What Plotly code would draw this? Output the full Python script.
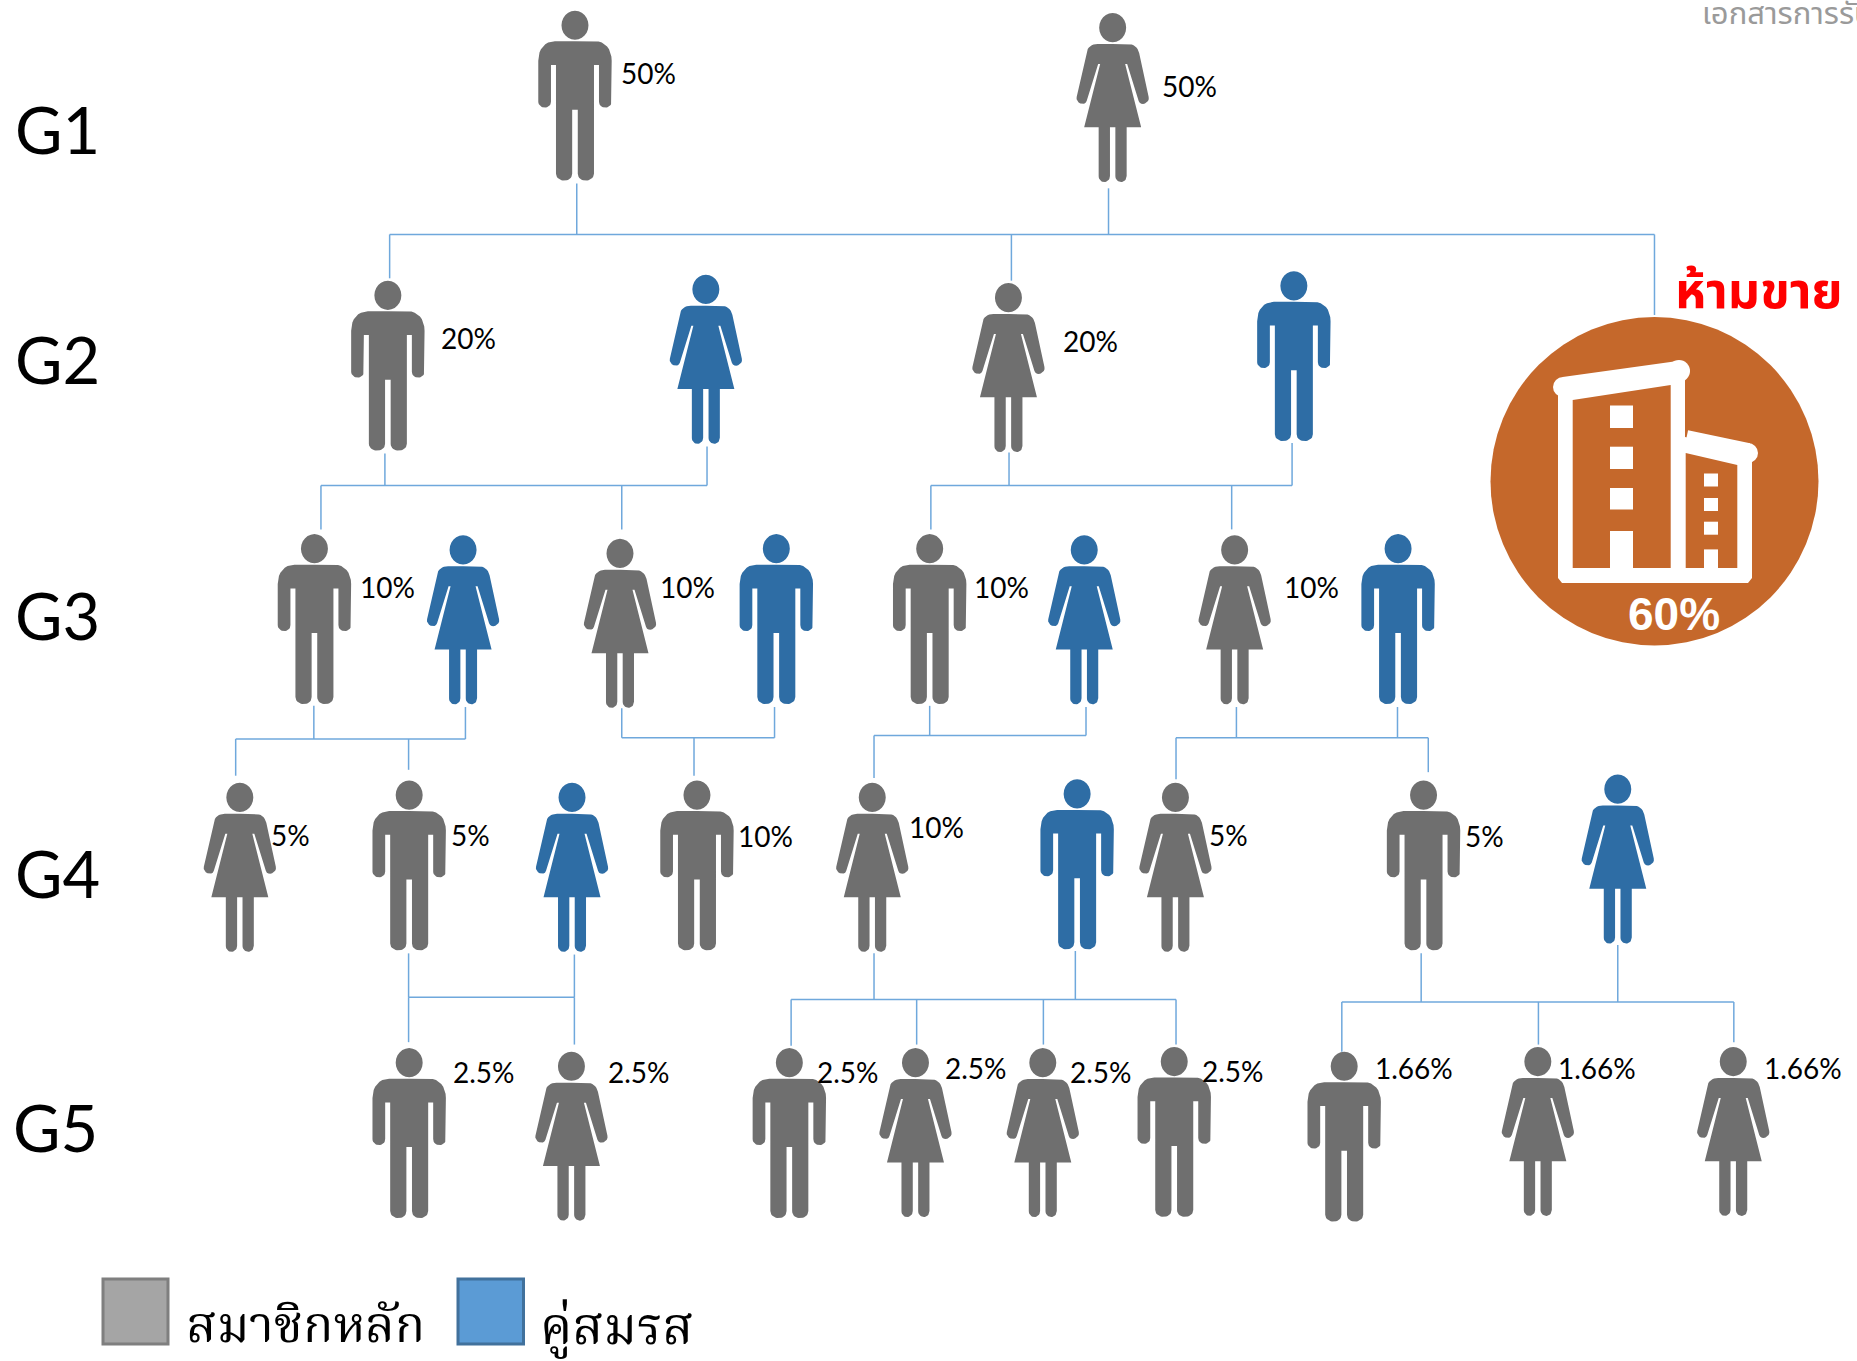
import plotly.graph_objects as go

S = 1857 / 1568  # positions below were read on the 1568 px wide view

GENERATIONS = ["G1", "G2", "G3", "G4", "G5"]
GEN_Y = [109, 303, 519, 737, 952]
GEN_X = [11, 11, 11, 11, 9]

PERSON_SEX = list("MF" "MFFM" "MFFMMFFM" "FMFMFMFMF" "MFMFFMMFF")
PERSON_KIND = list("mm" "msms" "msmsmsms" "mmsmmsmms" "mmmmmmmmm")
PERSON_X = [485.5, 939.5, 327.5, 596, 851.5, 1092.5, 265.5, 391, 523.5, 655.5, 785, 915.5, 1042.5, 1180.5,
            202.5, 345.5, 483, 588.5, 736.5, 909.5, 992.5, 1202, 1366,
            345.5, 482.5, 666.5, 773, 880.5, 991.5, 1135, 1298.5, 1463.5]
PERSON_TOP = [9, 11, 237, 232, 239, 229, 451, 452, 455, 451, 451, 452, 452, 451,
              661, 659, 661, 659, 661, 658, 661, 659, 654,
              885, 888, 885, 885, 885, 884, 888, 884, 884]

SHARE_TEXT = ["50%", "50%", "20%", "20%", "10%", "10%", "10%", "10%",
              "5%", "5%", "10%", "10%", "5%", "5%",
              "2.5%", "2.5%", "2.5%", "2.5%", "2.5%", "2.5%", "1.66%", "1.66%", "1.66%"]
SHARE_X = [523, 979.5, 370.5, 895.5, 302.5, 555.5, 820.5, 1082.5,
           227.5, 379.5, 621.5, 765.5, 1019.5, 1235.5,
           380.5, 511.5, 688.5, 796.5, 901.5, 1013.5, 1159.5, 1313.5, 1487.5]
SHARE_Y = [62, 73, 285, 288, 496, 496, 496, 496,
           705, 705, 706, 698, 705, 706,
           905, 905, 905, 902, 905, 904, 902, 902, 902]

CONNECTORS = [
    (198, 329, 1397, [(487, 155), (936, 159), (329, 235), (854, 237), (1397, 266)]),
    (410, 271, 597, [(325, 383), (597, 377), (271, 447), (525, 447)]),
    (410, 786, 1091, [(852, 382), (1091, 374), (786, 447), (1040, 447)]),
    (624, 199, 393, [(265, 596), (393, 597), (199, 655), (345, 650)]),
    (623, 525, 654, [(525, 598), (654, 597), (586, 655)]),
    (621, 738, 917, [(785, 596), (917, 597), (738, 657)]),
    (623, 993, 1206, [(1044, 597), (1180, 597), (993, 658), (1206, 652)]),
    (842, 345, 485, [(345, 805), (485, 806), (345, 880), (485, 882)]),
    (844, 668, 993, [(738, 805), (908, 803), (668, 883), (774, 882), (881, 882), (993, 882)]),
    (846, 1133, 1464, [(1200, 805), (1366, 798), (1133, 888), (1299, 882), (1464, 880)]),
]

LEGEND_LABELS = ["สมาชิกหลัก", "คู่สมรส"]
WATERMARK = "เอกสารการรับรอง"
BANNER = "ห้ามขาย"
ASSET_SHARE = "60%"

GRAY, BLUE, LINE = "#6F6F6F", "#2E6DA5", "#6FA8DC"
BROWN = "#C5682B"
THAI = "Noto Sans Thai, Noto Sans, Loma, Garuda, sans-serif"
THAI_SERIF = "Noto Serif Thai, Noto Sans, Liberation Serif, serif"


def bez(p0, p1, p2, p3, n=8):
    out = []
    for i in range(1, n + 1):
        t = i / n
        a, b, c, d = (1 - t) ** 3, 3 * t * (1 - t) ** 2, 3 * t * t * (1 - t), t ** 3
        out.append((a * p0[0] + b * p1[0] + c * p2[0] + d * p3[0],
                    a * p0[1] + b * p1[1] + c * p2[1] + d * p3[1]))
    return out


def half_man():
    p = [(0, 30.6), (20, 30.6)]
    p += bez((20, 30.6), (30, 30.6), (36.7, 38), (36.7, 50))
    p += [(36.7, 91)]
    p += bez((36.7, 91), (36.7, 95), (33, 97), (30.5, 97))
    p += bez((30.5, 97), (27, 97), (24, 95), (24, 91))
    p += [(24, 54.3), (19, 54.3), (19, 163)]
    p += bez((19, 163), (19, 168), (14, 170), (11, 170))
    p += bez((11, 170), (7, 170), (2.8, 168), (2.8, 163))
    p += [(2.8, 99), (0, 99)]
    return p


def half_woman():
    p = [(0, 31), (15, 31)]
    p += bez((15, 31), (21, 31), (25, 34), (26.5, 40))
    p += [(36, 84)]
    p += bez((36, 84), (37.5, 90), (28, 94), (26, 88))
    p += [(14.5, 51), (12.5, 51), (28.5, 114.3), (14, 114.3), (14, 163)]
    p += bez((14, 163), (14, 167), (11, 169), (8.5, 169))
    p += bez((8.5, 169), (6, 169), (2.7, 167), (2.7, 163))
    p += [(2.7, 114.3), (0, 114.3)]
    return p


def head():
    pts = []
    k = 0.5523
    rx, ry, cy = 13.5, 14.6, 14.6
    corners = [((rx, cy), (rx, cy + k * ry), (k * rx, cy + ry), (0, cy + ry)),
               ((0, cy + ry), (-k * rx, cy + ry), (-rx, cy + k * ry), (-rx, cy)),
               ((-rx, cy), (-rx, cy - k * ry), (-k * rx, cy - ry), (0, cy - ry)),
               ((0, cy - ry), (k * rx, cy - ry), (rx, cy - k * ry), (rx, cy))]
    for c in corners:
        pts += bez(*c, n=6)
    return pts


GLYPH_M = half_man()
GLYPH_F = half_woman()
GLYPH_H = head()

fig = go.Figure()

lx, ly = [], []
for bar_y, x0, x1, stems in CONNECTORS:
    lx += [x0 * S, x1 * S, None]
    ly += [bar_y * S, bar_y * S, None]
    for sx, sy in stems:
        lx += [sx * S, sx * S, None]
        ly += [bar_y * S, sy * S, None]
fig.add_trace(go.Scatter(x=lx, y=ly, mode="lines", line=dict(color=LINE, width=1.5),
                         hoverinfo="skip", showlegend=False))

for sex, kind, px, top in zip(PERSON_SEX, PERSON_KIND, PERSON_X, PERSON_TOP):
    half = GLYPH_M if sex == "M" else GLYPH_F
    body = half + [(-a, b) for a, b in reversed(half)]
    cx, ty = px * S, top * S
    xs = [cx + a for a, _ in body] + [None] + [cx + a for a, _ in GLYPH_H]
    ys = [ty + b for _, b in body] + [None] + [ty + b for _, b in GLYPH_H]
    col = GRAY if kind == "m" else BLUE
    fig.add_trace(go.Scatter(x=xs, y=ys, mode="lines", fill="toself", fillcolor=col,
                             line=dict(width=0, color=col), hoverinfo="skip", showlegend=False))

shapes = [
    dict(type="rect", x0=103, x1=168, y0=1279, y1=1344, fillcolor="#A5A5A5", line=dict(color="#7F7F7F", width=3)),
    dict(type="rect", x0=458, x1=523.5, y0=1279, y1=1344, fillcolor="#5B9BD5", line=dict(color="#41719C", width=3)),
    dict(type="circle", x0=1490.5, x1=1818.5, y0=317, y1=645.5, fillcolor=BROWN, line=dict(width=0)),
]


def poly(pts, color):
    d = "M" + " L".join(f"{x},{y}" for x, y in pts) + " Z"
    return dict(type="path", path=d, fillcolor=color, line=dict(width=0))


def rect(x0, x1, y0, y1, color):
    return dict(type="rect", x0=x0, x1=x1, y0=y0, y1=y1, fillcolor=color, line=dict(width=0))


shapes += [
    poly([(1558, 385), (1685, 372), (1685, 437), (1752, 452), (1752, 578), (1748, 583), (1562, 583), (1558, 578)], "white"),
    dict(type="path", path="M1564,387 L1679,371", line=dict(color="white", width=20)),
    dict(type="path", path="M1686,440 L1748,453", line=dict(color="white", width=20)),
    dict(type="circle", x0=1553, x1=1573, y0=377, y1=397, fillcolor="white", line=dict(width=0)),
    dict(type="circle", x0=1668, x1=1690, y0=360, y1=382, fillcolor="white", line=dict(width=0)),
    dict(type="circle", x0=1738, x1=1758, y0=443, y1=463, fillcolor="white", line=dict(width=0)),
    poly([(1572.7, 400), (1670.7, 385), (1670.7, 568), (1572.7, 568)], BROWN),
    poly([(1685.7, 453), (1737.3, 465), (1737.3, 568), (1685.7, 568)], BROWN),
]
for y0, y1 in [(405.5, 428), (446.7, 469), (488, 509.5), (531, 568)]:
    shapes.append(rect(1610, 1633, y0, y1, "white"))
for y0, y1 in [(473.5, 486.5), (498, 511), (521.7, 534.7), (549.4, 568)]:
    shapes.append(rect(1704, 1718, y0, y1, "white"))

ann = []
for t, x, y in zip(GENERATIONS, GEN_X, GEN_Y):
    ann.append(dict(x=x * S, y=y * S, text=t, xanchor="left", yanchor="middle", showarrow=False,
                    font=dict(family="Lato, Open Sans, sans-serif", size=65, color="black")))
for t, x, y in zip(SHARE_TEXT, SHARE_X, SHARE_Y):
    ann.append(dict(x=x * S, y=y * S, text=t, xanchor="left", yanchor="middle", showarrow=False,
                    font=dict(family="Lato, Open Sans, sans-serif", size=28, color="black")))
ann += [
    dict(x=1674, y=614, text=ASSET_SHARE, xanchor="center", yanchor="middle", showarrow=False,
         font=dict(family="Liberation Sans, sans-serif", size=46, color="white", weight="bold")),
    dict(x=1759, y=293, text=BANNER, xanchor="center", yanchor="middle", showarrow=False,
         font=dict(family=THAI, size=50, color="#FF0000", weight="bold")),
    dict(x=1700, y=14, text=WATERMARK, xanchor="left", yanchor="middle", showarrow=False,
         font=dict(family=THAI, size=31, color="#9A9A9A")),
    dict(x=184, y=1329, text=LEGEND_LABELS[0], xanchor="left", yanchor="middle", showarrow=False,
         font=dict(family=THAI_SERIF, size=50, color="black")),
    dict(x=538, y=1330, text=LEGEND_LABELS[1], xanchor="left", yanchor="middle", showarrow=False,
         font=dict(family=THAI_SERIF, size=51, color="black")),
]

fig.update_layout(
    width=1857, height=1361, margin=dict(l=0, r=0, t=0, b=0),
    paper_bgcolor="white", plot_bgcolor="white", shapes=shapes, annotations=ann,
    xaxis=dict(range=[0, 1857], visible=False, fixedrange=True),
    yaxis=dict(range=[1361, 0], visible=False, fixedrange=True),
)
fig.write_html("out.html", config=dict(displayModeBar=False),
               post_script="document.body.style.margin='0';document.body.style.overflow='hidden';")
